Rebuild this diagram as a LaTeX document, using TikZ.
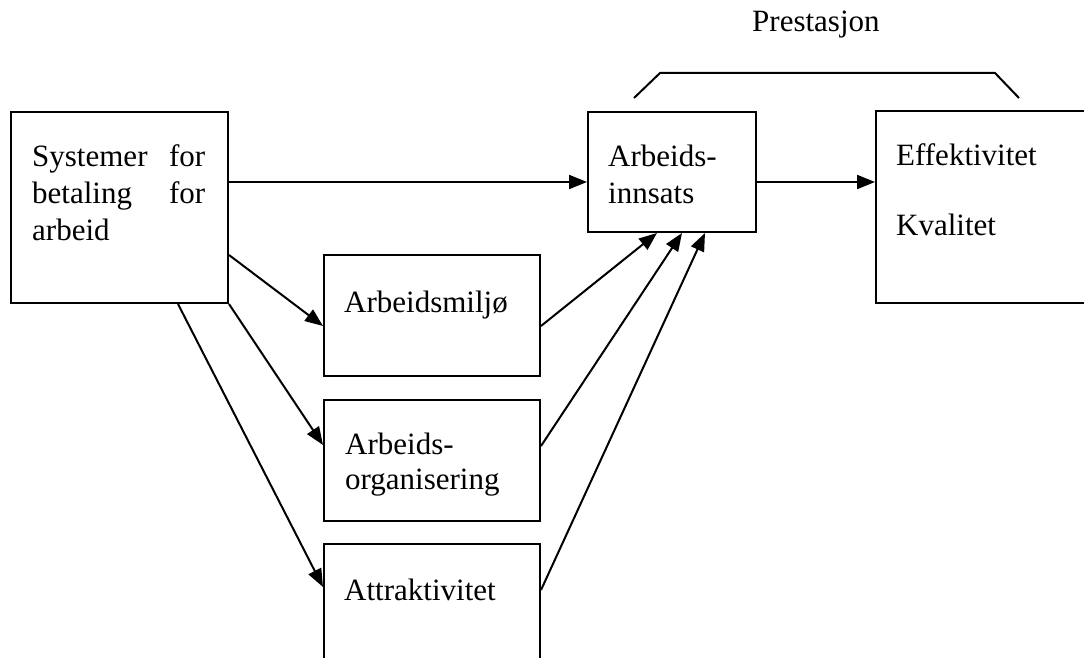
\documentclass[tikz,border=0pt]{standalone}
\usepackage{fontspec}
\setmainfont{Liberation Serif}
\usetikzlibrary{arrows.meta,calc}
\begin{document}
\begin{tikzpicture}[x=1pt,y=-1pt,
  box/.style={draw,line width=2pt,rectangle,inner sep=0pt,anchor=north west},
  lbl/.style={inner sep=0pt,anchor=base west,font=\fontsize{31}{36}\selectfont},
  conn/.style={line width=2pt,-{Triangle[length=18pt,width=14pt]}},
  brk/.style={line width=2pt}]
\useasboundingbox (0,0) rectangle (1084,658);
\clip (0,0) rectangle (1084,658);
% boxes
\node[box,minimum width=217pt,minimum height=191pt] (sys) at (10,111) {};
\node[box,minimum width=168pt,minimum height=120pt] (inn) at (587,111) {};
\node[box,minimum width=300pt,minimum height=192pt] (eff) at (875,110) {};
\node[box,minimum width=216pt,minimum height=121pt] (mil) at (323,254) {};
\node[box,minimum width=216pt,minimum height=121pt] (org) at (323,399) {};
\node[box,minimum width=216pt,minimum height=170pt] (att) at (323,543) {};
% texts
\node[lbl] (tsys1) at (32,166) {\hbox to 173pt{Systemer\hfill for}};
\node[lbl] (tsys2) at (32,203) {\hbox to 173pt{betaling\hfill for}};
\node[lbl] (tsys3) at (32,240) {arbeid};
\node[lbl] (tinn1) at (608,167) {Arbeids-};
\node[lbl] (tinn2) at (608,203) {innsats};
\node[lbl] (teff1) at (896,165) {Effektivitet};
\node[lbl] (teff2) at (896,235) {Kvalitet};
\node[lbl] (tmil) at (344,312) {Arbeidsmiljø};
\node[lbl] (torg1) at (345,454) {Arbeids-};
\node[lbl] (torg2) at (345,489) {organisering};
\node[lbl] (tatt) at (344,600) {Attraktivitet};
\node[lbl] (tpre) at (752,32) {Prestasjon};
% bracket
\draw[brk] ($(inn.north west)+(47,-13)$) -- ($(inn.north west)+(73,-38)$)
  -- ($(eff.north west)+(120,-37)$) -- ($(eff.north west)+(144,-12)$);
% connectors
\draw[conn] ($(sys.north east)+(0,71)$) -- ($(inn.north west)+(0,71)$);
\draw[conn] ($(inn.north east)+(0,71)$) -- ($(eff.north west)+(0,72)$);
\draw[conn] ($(sys.north east)+(0,144)$) -- ($(mil.north west)+(0,72)$);
\draw[conn] (sys.south east) -- ($(org.north west)+(0,46)$);
\draw[conn] ($(sys.south west)+(168,0)$) -- ($(att.north west)+(0,44)$);
\draw[conn] ($(mil.north east)+(0,72)$) -- ($(inn.south west)+(70,0)$);
\draw[conn] ($(org.north east)+(0,47)$) -- ($(inn.south west)+(95,0)$);
\draw[conn] ($(att.north east)+(0,47)$) -- ($(inn.south west)+(118,0)$);
\end{tikzpicture}
\end{document}
